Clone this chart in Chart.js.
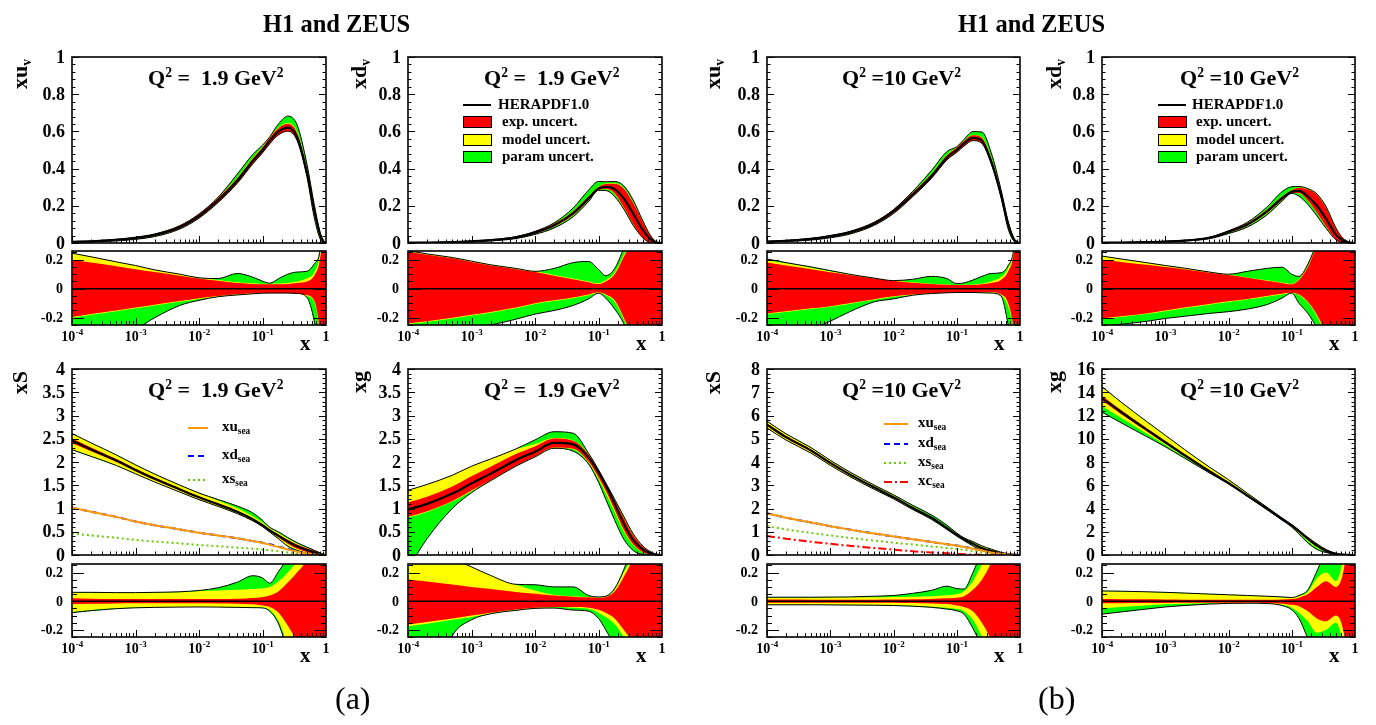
<!DOCTYPE html>
<html><head><meta charset="utf-8">
<script src="https://cdn.jsdelivr.net/npm/chart.js@4.4.1/dist/chart.umd.min.js"></script>
<style>
html,body{margin:0;padding:0;background:#fff;width:1376px;height:725px;overflow:hidden;position:relative}
canvas{position:absolute;left:0;top:0}
.t{position:absolute;font-family:"Liberation Serif","Times New Roman",serif;font-weight:bold;color:#000;white-space:pre;line-height:1;z-index:5}
.sup{font-size:0.62em;position:relative;top:-0.62em}
.sub{font-size:0.62em;position:relative;top:0.3em}
.rot{transform-origin:0 0;transform:rotate(-90deg);width:80px;text-align:right}
.box{position:absolute;border:1px solid #000;z-index:5}
</style></head><body>
<script>
// ---------------- data ----------------
const X = [1e-4,2e-4,5e-4,1e-3,2e-3,5e-3,0.01,0.02,0.04,0.07,0.1,0.13,0.18,0.25,0.35,0.5,0.65,0.8,0.9,1];
const X_TICKS = [1e-4,1e-3,1e-2,1e-1,1];
const TICKS_V = [0,0.2,0.4,0.6,0.8,1];
const TICKS_S19 = [0,0.5,1,1.5,2,2.5,3,3.5,4];
const TICKS_S10 = [0,1,2,3,4,5,6,7,8];
const TICKS_G10 = [0,2,4,6,8,10,12,14,16];
const TICKS_R = [-0.2,0,0.2];

// xu_v, Q2 = 1.9
const xuv19 = [0.006,0.009,0.017,0.027,0.043,0.085,0.145,0.23,0.335,0.44,0.50,0.55,0.60,0.62,0.57,0.38,0.18,0.05,0.01,0];
const xuv19_expUp = [0.20,0.18,0.155,0.135,0.115,0.09,0.07,0.055,0.04,0.033,0.03,0.03,0.03,0.033,0.04,0.05,0.09,0.2,0.4,1];
const xuv19_modUp = [0.245,0.22,0.185,0.16,0.13,0.1,0.075,0.06,0.045,0.038,0.035,0.035,0.036,0.04,0.05,0.07,0.11,0.23,0.45,1];
const xuv19_totUp = [0.245,0.22,0.185,0.16,0.13,0.1,0.075,0.07,0.105,0.08,0.052,0.038,0.07,0.1,0.115,0.12,0.17,0.26,0.5,1];
const xuv19_expDn = [-0.195,-0.175,-0.15,-0.13,-0.11,-0.085,-0.065,-0.05,-0.038,-0.032,-0.03,-0.03,-0.03,-0.03,-0.035,-0.045,-0.08,-0.3,-0.6,-1];
const xuv19_modDn = [-0.2,-0.18,-0.155,-0.135,-0.115,-0.09,-0.07,-0.055,-0.042,-0.035,-0.032,-0.032,-0.032,-0.032,-0.037,-0.05,-0.09,-0.32,-0.65,-1];
const xuv19_totDn = [-0.4,-0.37,-0.33,-0.28,-0.2,-0.115,-0.08,-0.055,-0.043,-0.035,-0.031,-0.03,-0.03,-0.03,-0.032,-0.06,-0.22,-0.5,-0.8,-1];

// xd_v, Q2 = 1.9
const xdv19 = [0.0015,0.0025,0.005,0.009,0.015,0.03,0.056,0.095,0.16,0.24,0.292,0.302,0.29,0.24,0.16,0.07,0.022,0.004,0.001,0];
const xdv19_expUp = [0.255,0.235,0.21,0.185,0.16,0.135,0.115,0.09,0.065,0.045,0.032,0.05,0.1,0.22,0.35,0.6,0.9,1,1,1];
const xdv19_modUp = [0.262,0.24,0.215,0.19,0.165,0.14,0.12,0.095,0.07,0.05,0.037,0.058,0.11,0.23,0.36,0.6,0.9,1,1,1];
const xdv19_totUp = [0.262,0.24,0.215,0.19,0.165,0.14,0.12,0.14,0.18,0.188,0.133,0.09,0.14,0.28,0.45,0.7,1,1,1,1];
const xdv19_expDn = [-0.24,-0.225,-0.2,-0.18,-0.16,-0.13,-0.1,-0.08,-0.06,-0.04,-0.025,-0.04,-0.08,-0.2,-0.35,-0.6,-0.9,-1,-1,-1];
const xdv19_modDn = [-0.245,-0.23,-0.205,-0.185,-0.165,-0.135,-0.105,-0.085,-0.065,-0.045,-0.03,-0.045,-0.09,-0.21,-0.36,-0.6,-0.9,-1,-1,-1];
const xdv19_totDn = [-0.32,-0.31,-0.29,-0.27,-0.25,-0.21,-0.175,-0.15,-0.115,-0.07,-0.03,-0.065,-0.14,-0.24,-0.4,-0.6,-0.9,-1,-1,-1];

// xu_v, Q2 = 10
const xuv10 = [0.008,0.012,0.022,0.036,0.056,0.105,0.17,0.26,0.36,0.46,0.5,0.535,0.565,0.55,0.44,0.26,0.1,0.02,0.004,0];
const xuv10_expUp = [0.18,0.16,0.135,0.113,0.095,0.07,0.054,0.042,0.032,0.027,0.025,0.025,0.025,0.03,0.04,0.06,0.12,0.25,0.5,1];
const xuv10_modUp = [0.195,0.175,0.145,0.12,0.1,0.073,0.056,0.044,0.034,0.029,0.027,0.027,0.028,0.034,0.05,0.08,0.14,0.27,0.55,1];
const xuv10_totUp = [0.205,0.18,0.15,0.125,0.1,0.073,0.056,0.065,0.085,0.07,0.035,0.04,0.06,0.085,0.105,0.11,0.16,0.28,0.55,1];
const xuv10_expDn = [-0.17,-0.155,-0.135,-0.12,-0.1,-0.072,-0.052,-0.04,-0.03,-0.027,-0.025,-0.025,-0.025,-0.025,-0.025,-0.04,-0.1,-0.3,-0.6,-1];
const xuv10_modDn = [-0.175,-0.16,-0.14,-0.125,-0.105,-0.076,-0.055,-0.043,-0.032,-0.028,-0.026,-0.026,-0.026,-0.027,-0.028,-0.045,-0.12,-0.32,-0.65,-1];
const xuv10_totDn = [-0.36,-0.33,-0.28,-0.224,-0.16,-0.09,-0.07,-0.045,-0.033,-0.028,-0.026,-0.026,-0.026,-0.028,-0.03,-0.05,-0.25,-0.5,-0.8,-1];

// xd_v, Q2 = 10
const xdv10 = [0.0015,0.0025,0.005,0.008,0.013,0.028,0.06,0.1,0.168,0.24,0.275,0.28,0.25,0.2,0.13,0.045,0.012,0.003,0.0005,0];
const xdv10_expUp = [0.2,0.185,0.165,0.15,0.135,0.11,0.094,0.075,0.055,0.04,0.03,0.06,0.15,0.3,0.45,0.7,1,1,1,1];
const xdv10_modUp = [0.225,0.205,0.18,0.16,0.142,0.115,0.097,0.078,0.058,0.043,0.034,0.065,0.155,0.31,0.46,0.7,1,1,1,1];
const xdv10_totUp = [0.225,0.205,0.18,0.16,0.142,0.115,0.1,0.12,0.14,0.148,0.1,0.085,0.17,0.32,0.5,0.8,1,1,1,1];
const xdv10_expDn = [-0.205,-0.19,-0.17,-0.15,-0.13,-0.105,-0.087,-0.07,-0.05,-0.035,-0.028,-0.04,-0.09,-0.18,-0.32,-0.6,-0.9,-1,-1,-1];
const xdv10_modDn = [-0.21,-0.195,-0.175,-0.155,-0.135,-0.11,-0.092,-0.075,-0.055,-0.04,-0.032,-0.045,-0.095,-0.19,-0.33,-0.6,-0.9,-1,-1,-1];
const xdv10_totDn = [-0.26,-0.245,-0.225,-0.205,-0.19,-0.17,-0.158,-0.14,-0.11,-0.065,-0.03,-0.1,-0.17,-0.27,-0.4,-0.6,-0.9,-1,-1,-1];

// xS, Q2 = 1.9
const xS19 = [2.46,2.27,2.03,1.83,1.64,1.41,1.24,1.09,0.93,0.77,0.64,0.53,0.41,0.29,0.19,0.11,0.06,0.025,0.008,0];
const xS19_expUp = [0.02,0.018,0.016,0.015,0.015,0.015,0.015,0.016,0.018,0.022,0.03,0.04,0.07,0.13,0.2,0.3,0.5,0.8,1,1];
const xS19_modUp = [0.06,0.06,0.058,0.058,0.06,0.063,0.07,0.075,0.08,0.085,0.09,0.1,0.14,0.2,0.28,0.4,0.6,0.9,1,1];
const xS19_totUp = [0.062,0.062,0.06,0.06,0.062,0.066,0.075,0.094,0.133,0.178,0.163,0.126,0.21,0.3,0.4,0.55,0.7,1,1,1];
const xS19_expDn = [-0.02,-0.018,-0.016,-0.015,-0.015,-0.015,-0.015,-0.016,-0.018,-0.022,-0.03,-0.04,-0.08,-0.17,-0.28,-0.4,-0.6,-0.9,-1,-1];
const xS19_modDn = [-0.075,-0.062,-0.05,-0.044,-0.042,-0.04,-0.04,-0.041,-0.043,-0.044,-0.045,-0.06,-0.14,-0.3,-0.4,-0.55,-0.75,-1,-1,-1];
const xS19_totDn = [-0.08,-0.066,-0.052,-0.046,-0.043,-0.041,-0.04,-0.041,-0.043,-0.045,-0.047,-0.07,-0.16,-0.35,-0.5,-0.7,-0.9,-1,-1,-1];
const xusea19 = [1.02,0.93,0.82,0.72,0.64,0.55,0.48,0.42,0.36,0.3,0.26,0.22,0.17,0.12,0.07,0.03,0.01,0.003,0.001,0];
const xdsea19 = [1.02,0.93,0.82,0.72,0.64,0.55,0.48,0.42,0.36,0.3,0.265,0.23,0.18,0.13,0.08,0.035,0.012,0.003,0.001,0];
const xssea19 = [0.46,0.42,0.37,0.325,0.29,0.25,0.215,0.19,0.16,0.135,0.115,0.1,0.077,0.055,0.032,0.014,0.005,0.001,0,0];

// xg, Q2 = 1.9
const xg19 = [0.98,1.1,1.32,1.54,1.75,2.04,2.22,2.41,2.38,2.1,1.78,1.5,1.1,0.68,0.33,0.12,0.04,0.01,0.002,0];
const xg19_expUp = [0.152,0.137,0.117,0.1,0.085,0.065,0.052,0.04,0.032,0.027,0.025,0.03,0.07,0.17,0.3,0.5,0.8,1,1,1];
const xg19_modUp = [0.42,0.38,0.3,0.24,0.18,0.115,0.075,0.045,0.035,0.029,0.028,0.032,0.08,0.2,0.33,0.55,0.85,1,1,1];
const xg19_totUp = [0.42,0.38,0.3,0.24,0.18,0.118,0.115,0.1,0.1,0.04,0.03,0.035,0.09,0.22,0.4,0.6,0.9,1,1,1];
const xg19_expDn = [-0.162,-0.145,-0.12,-0.1,-0.08,-0.058,-0.045,-0.04,-0.04,-0.045,-0.06,-0.08,-0.12,-0.2,-0.3,-0.5,-0.8,-1,-1,-1];
const xg19_modDn = [-0.175,-0.157,-0.13,-0.11,-0.085,-0.062,-0.048,-0.043,-0.045,-0.052,-0.08,-0.11,-0.16,-0.25,-0.35,-0.55,-0.85,-1,-1,-1];
const xg19_totDn = [-1.3,-0.68,-0.24,-0.13,-0.088,-0.064,-0.05,-0.048,-0.062,-0.07,-0.12,-0.2,-0.32,-0.5,-0.7,-0.9,-1,-1,-1,-1];

// xS, Q2 = 10
const xS10 = [5.6,5.07,4.49,3.96,3.48,2.9,2.49,2.03,1.6,1.16,0.87,0.68,0.48,0.29,0.17,0.07,0.03,0.01,0.003,0];
const xS10_expUp = [0.012,0.012,0.011,0.011,0.011,0.011,0.012,0.014,0.016,0.02,0.025,0.035,0.08,0.15,0.27,0.45,0.7,1,1,1];
const xS10_modUp = [0.025,0.025,0.025,0.026,0.027,0.028,0.03,0.032,0.035,0.042,0.05,0.07,0.14,0.26,0.4,0.6,0.8,1,1,1];
const xS10_totUp = [0.028,0.028,0.028,0.029,0.03,0.035,0.04,0.055,0.076,0.105,0.088,0.085,0.2,0.35,0.5,0.7,0.9,1,1,1];
const xS10_expDn = [-0.01,-0.01,-0.01,-0.01,-0.01,-0.01,-0.011,-0.013,-0.016,-0.02,-0.03,-0.04,-0.07,-0.15,-0.27,-0.45,-0.7,-1,-1,-1];
const xS10_modDn = [-0.024,-0.024,-0.024,-0.025,-0.025,-0.026,-0.028,-0.032,-0.038,-0.045,-0.055,-0.07,-0.13,-0.25,-0.4,-0.6,-0.8,-1,-1,-1];
const xS10_totDn = [-0.025,-0.025,-0.025,-0.026,-0.027,-0.028,-0.03,-0.035,-0.043,-0.055,-0.067,-0.09,-0.19,-0.32,-0.5,-0.7,-0.9,-1,-1,-1];
const xusea10 = [1.8,1.6,1.4,1.24,1.1,0.92,0.8,0.68,0.56,0.46,0.4,0.34,0.27,0.19,0.11,0.05,0.02,0.005,0.001,0];
const xdsea10 = [1.8,1.6,1.4,1.24,1.1,0.92,0.8,0.68,0.56,0.46,0.41,0.35,0.28,0.2,0.12,0.055,0.022,0.006,0.001,0];
const xssea10 = [1.25,1.1,0.95,0.84,0.74,0.62,0.53,0.45,0.37,0.3,0.26,0.22,0.17,0.12,0.07,0.03,0.01,0.003,0.001,0];
const xcsea10 = [0.82,0.7,0.57,0.48,0.4,0.3,0.23,0.16,0.11,0.07,0.05,0.035,0.02,0.01,0.004,0.001,0,0,0,0];

// xg, Q2 = 10
const xg10 = [13.5,12.3,10.8,9.7,8.6,7.2,6.2,5.1,4.0,3.1,2.55,2.05,1.4,0.8,0.35,0.1,0.03,0.006,0.001,0];
const xg10_expUp = [0.015,0.014,0.013,0.012,0.011,0.01,0.01,0.01,0.01,0.012,0.015,0.025,0.05,0.1,0.14,0.1,0.2,0.5,0.8,1];
const xg10_modUp = [0.07,0.068,0.064,0.06,0.055,0.048,0.043,0.038,0.033,0.028,0.024,0.035,0.065,0.16,0.2,0.14,0.3,0.6,0.9,1];
const xg10_totUp = [0.072,0.07,0.066,0.062,0.057,0.05,0.045,0.04,0.035,0.03,0.026,0.04,0.08,0.21,0.35,0.4,0.5,0.7,1,1];
const xg10_expDn = [-0.015,-0.014,-0.013,-0.012,-0.011,-0.01,-0.01,-0.01,-0.012,-0.018,-0.025,-0.035,-0.07,-0.12,-0.14,-0.1,-0.2,-0.5,-0.8,-1];
const xg10_modDn = [-0.05,-0.04,-0.03,-0.022,-0.018,-0.015,-0.013,-0.012,-0.014,-0.025,-0.045,-0.08,-0.14,-0.22,-0.2,-0.15,-0.3,-0.6,-1,-1];
const xg10_totDn = [-0.09,-0.075,-0.055,-0.04,-0.03,-0.02,-0.015,-0.014,-0.016,-0.03,-0.06,-0.12,-0.26,-0.4,-0.4,-0.3,-0.5,-0.8,-1,-1];

// ---------------- layout ----------------
const W = 1376, H = 725;
const COLS = [[72,326],[408,662],[767,1020],[1102,1355]];
const ROWS = [{main:[57,243], ratio:[251,325]}, {main:[369,555], ratio:[564,637]}];
const FONT = '"Liberation Serif","Times New Roman",serif';
const RED = '#ff0000', YEL = '#ffff00', GRN = '#00ff00';

const rootFrame = {
  id: 'rootFrame',
  afterDraw(chart, args, o) {
    const ctx = chart.ctx, a = chart.chartArea, xs = chart.scales.x, ys = chart.scales.y;
    ctx.save();
    ctx.strokeStyle = '#000'; ctx.fillStyle = '#000'; ctx.lineWidth = 1;
    ctx.beginPath();
    const n0 = Math.ceil(ys.min / o.yMinor - 1e-6), n1 = Math.floor(ys.max / o.yMinor + 1e-6);
    for (let k = n0; k <= n1; k++) {
      const v = k * o.yMinor;
      const p = Math.round(ys.getPixelForValue(v)) + 0.5;
      const maj = o.yTicks.some(t => Math.abs(t - v) < 1e-6);
      const len = maj ? o.yMaj : o.yMin;
      ctx.moveTo(a.left, p); ctx.lineTo(a.left + len, p);
      ctx.moveTo(a.right, p); ctx.lineTo(a.right - len, p);
    }
    for (let d = 0; d < X_TICKS.length - 1; d++) {
      for (let m = 1; m <= 9; m++) {
        const v = X_TICKS[d] * m;
        const p = Math.round(xs.getPixelForValue(v)) + 0.5;
        const len = m === 1 ? o.xMaj : o.xMin;
        ctx.moveTo(p, a.bottom); ctx.lineTo(p, a.bottom - len);
      }
    }
    ctx.stroke();
    ctx.lineWidth = 1.6;
    ctx.strokeRect(a.left, a.top, a.right - a.left, a.bottom - a.top);
    // y labels
    ctx.font = 'bold ' + o.yFont + 'px ' + FONT;
    ctx.textAlign = 'right'; ctx.textBaseline = 'middle';
    for (const v of o.yTicks) {
      const s = Math.abs(v) < 1e-9 ? '0' : String(Math.round(v * 100) / 100);
      ctx.fillText(s, a.left - o.yGap, ys.getPixelForValue(v) + 1);
    }
    // x labels
    if (o.xLabels) {
      ctx.textBaseline = 'alphabetic'; ctx.textAlign = 'left';
      const yb = a.bottom + 16;
      for (const v of X_TICKS) {
        const p = xs.getPixelForValue(v);
        const e = Math.round(Math.log10(v));
        if (e === 0) {
          ctx.font = 'bold 14px ' + FONT;
          const w = ctx.measureText('1').width;
          ctx.fillText('1', p - w / 2, yb);
        } else {
          ctx.font = 'bold 14px ' + FONT;
          const wb = ctx.measureText('10').width;
          ctx.font = 'bold 9px ' + FONT;
          const es = '-' + Math.abs(e);
          const we = ctx.measureText(es).width;
          const s0 = p - (wb + we) / 2;
          ctx.font = 'bold 14px ' + FONT;
          ctx.fillText('10', s0, yb);
          ctx.font = 'bold 9px ' + FONT;
          ctx.fillText(es, s0 + wb + 0.5, yb - 6);
        }
      }
    }
    ctx.restore();
  }
};

function pts(ys) { return X.map((x, i) => ({x: x, y: ys[i]})); }
function scaled(c, f) { return c.map((v, i) => v * (1 + f[i])); }

function bandSets(c, eU, eD, mU, mD, tU, tD, isRatio) {
  const tr = isRatio ? (f => f) : (f => scaled(c, f));
  const none = 'rgba(0,0,0,0)';
  return [
    {data: pts(isRatio ? c.map(() => 0) : c), borderColor: '#000', borderWidth: isRatio ? 1.4 : 2.2, fill: false},
    {data: pts(tr(eU)), borderColor: none, borderWidth: 1, backgroundColor: RED, fill: '+1'},
    {data: pts(tr(eD)), borderColor: none, borderWidth: 1, fill: false},
    {data: pts(tr(mU)), borderColor: none, borderWidth: 1, backgroundColor: YEL, fill: '+1'},
    {data: pts(tr(mD)), borderColor: none, borderWidth: 1, fill: false},
    {data: pts(tr(tU)), borderColor: '#000', borderWidth: 1, backgroundColor: GRN, fill: '+1'},
    {data: pts(tr(tD)), borderColor: '#000', borderWidth: 1, fill: false}
  ];
}

function makeChart(l, r, t, b, datasets, yMin, yMax, ax) {
  const cv = document.createElement('canvas');
  cv.width = W; cv.height = H;
  document.body.appendChild(cv);
  datasets.forEach(d => { d.clip = 0; d.pointRadius = 0; d.cubicInterpolationMode = 'monotone'; });
  return new Chart(cv, {
    type: 'line',
    data: {datasets: datasets},
    options: {
      responsive: false, animation: false, events: [],
      layout: {padding: {left: l, right: W - r, top: t, bottom: H - b}},
      scales: {
        x: {type: 'logarithmic', min: 1e-4, max: 1, display: false},
        y: {type: 'linear', min: yMin, max: yMax, display: false}
      },
      plugins: {legend: {display: false}, tooltip: {enabled: false},
                filler: {drawTime: 'beforeDatasetsDraw'}, rootFrame: ax}
    },
    plugins: [rootFrame]
  });
}

const PANELS = [
  {col:0,row:0,c:xuv19,eU:xuv19_expUp,eD:xuv19_expDn,mU:xuv19_modUp,mD:xuv19_modDn,tU:xuv19_totUp,tD:xuv19_totDn,ymax:1,ticks:TICKS_V,minor:0.04},
  {col:1,row:0,c:xdv19,eU:xdv19_expUp,eD:xdv19_expDn,mU:xdv19_modUp,mD:xdv19_modDn,tU:xdv19_totUp,tD:xdv19_totDn,ymax:1,ticks:TICKS_V,minor:0.04},
  {col:2,row:0,c:xuv10,eU:xuv10_expUp,eD:xuv10_expDn,mU:xuv10_modUp,mD:xuv10_modDn,tU:xuv10_totUp,tD:xuv10_totDn,ymax:1,ticks:TICKS_V,minor:0.04},
  {col:3,row:0,c:xdv10,eU:xdv10_expUp,eD:xdv10_expDn,mU:xdv10_modUp,mD:xdv10_modDn,tU:xdv10_totUp,tD:xdv10_totDn,ymax:1,ticks:TICKS_V,minor:0.04},
  {col:0,row:1,c:xS19,eU:xS19_expUp,eD:xS19_expDn,mU:xS19_modUp,mD:xS19_modDn,tU:xS19_totUp,tD:xS19_totDn,ymax:4,ticks:TICKS_S19,minor:0.1,
   sea:[{d:xusea19,c:'#ff9900',dash:[]},{d:xdsea19,c:'#0000ff',dash:[6,4]},{d:xssea19,c:'#66cc00',dash:[2,3]}]},
  {col:1,row:1,c:xg19,eU:xg19_expUp,eD:xg19_expDn,mU:xg19_modUp,mD:xg19_modDn,tU:xg19_totUp,tD:xg19_totDn,ymax:4,ticks:TICKS_S19,minor:0.1},
  {col:2,row:1,c:xS10,eU:xS10_expUp,eD:xS10_expDn,mU:xS10_modUp,mD:xS10_modDn,tU:xS10_totUp,tD:xS10_totDn,ymax:8,ticks:TICKS_S10,minor:0.2,
   sea:[{d:xusea10,c:'#ff9900',dash:[]},{d:xdsea10,c:'#0000ff',dash:[6,4]},{d:xssea10,c:'#66cc00',dash:[2,3]},{d:xcsea10,c:'#ff0000',dash:[8,3,2,3]}]},
  {col:3,row:1,c:xg10,eU:xg10_expUp,eD:xg10_expDn,mU:xg10_modUp,mD:xg10_modDn,tU:xg10_totUp,tD:xg10_totDn,ymax:16,ticks:TICKS_G10,minor:0.4}
];

PANELS.forEach(P => {
  const [l, r] = COLS[P.col];
  const R = ROWS[P.row];
  const main = bandSets(P.c, P.eU, P.eD, P.mU, P.mD, P.tU, P.tD, false);
  const seaSets = (P.sea || []).map(s => ({data: pts(s.d), borderColor: s.c, borderWidth: 2, borderDash: s.dash, fill: false}));
  makeChart(l, r, R.main[0], R.main[1], seaSets.concat(main), 0, P.ymax,
    {yTicks: P.ticks, yMinor: P.minor, yMaj: 7, yMin: 3.5, xMaj: 7, xMin: 3.5, yFont: 18, yGap: 7, xLabels: false});
  const rat = bandSets(P.c, P.eU, P.eD, P.mU, P.mD, P.tU, P.tD, true);
  makeChart(l, r, R.ratio[0], R.ratio[1], rat, -0.25, 0.26,
    {yTicks: TICKS_R, yMinor: 0.05, yMaj: 12, yMin: 5, xMaj: 7, xMin: 4, yFont: 14, yGap: 9, xLabels: true});
});

// ---------------- text ----------------
function txt(html, left, top, size, cls, extra) {
  const d = document.createElement('div');
  d.className = 't' + (cls ? ' ' + cls : '');
  d.style.left = left + 'px'; d.style.top = top + 'px'; d.style.fontSize = size + 'px';
  if (extra) d.style.cssText += extra;
  d.innerHTML = html;
  document.body.appendChild(d);
  return d;
}
function box(left, top, w, h, color) {
  const d = document.createElement('div');
  d.className = 'box';
  d.style.cssText += 'left:' + left + 'px;top:' + top + 'px;width:' + w + 'px;height:' + h + 'px;background:' + color;
  document.body.appendChild(d);
}

txt('H1 and ZEUS', 263, 12, 24.5);
txt('H1 and ZEUS', 958, 12, 24.5);
txt('(a)', 335, 682, 32, '', 'font-weight:normal');
txt('(b)', 1038, 682, 32, '', 'font-weight:normal');

const YNAMES = [['xu<span class="sub">v</span>','xd<span class="sub">v</span>','xu<span class="sub">v</span>','xd<span class="sub">v</span>'],
                ['xS','xg','xS','xg']];
const YNAME_L = [9, 348, 702, 1043];
for (let r = 0; r < 2; r++) for (let c = 0; c < 4; c++) {
  txt(YNAMES[r][c], YNAME_L[c], ROWS[r].main[0] + 2 + 80, 22, 'rot');
  txt('x', COLS[c][1] - 26, ROWS[r].ratio[1] + 8, 21);
}
const Q2 = ['Q<span class="sup">2</span> =  1.9 GeV<span class="sup">2</span>', 'Q<span class="sup">2</span> =10 GeV<span class="sup">2</span>'];
const Q2L = [148, 484, 842, 1180];
for (let r = 0; r < 2; r++) for (let c = 0; c < 4; c++) {
  txt(Q2[c < 2 ? 0 : 1], Q2L[c], ROWS[r].main[0] + 10, 22);
}

// legends HERAPDF
[[463, 498, 502], [1158, 1192, 1196]].forEach(([bx, tx1, tx2]) => {
  const ln = document.createElement('div');
  ln.style.cssText = 'position:absolute;z-index:5;background:#000;left:' + bx + 'px;top:104px;width:28px;height:2px';
  document.body.appendChild(ln);
  txt('HERAPDF1.0', tx1, 97, 15);
  box(bx, 116, 27, 10, RED); txt('exp. uncert.', tx2, 114, 15);
  box(bx, 134, 27, 10, YEL); txt('model uncert.', tx2, 132, 15);
  box(bx, 151, 27, 10, GRN); txt('param uncert.', tx2, 149, 15);
});

// sea legends
function seaLegend(x0, x1, tx, items) {
  let svg = '<svg width="' + W + '" height="' + H + '" style="position:absolute;left:0;top:0;z-index:4">';
  items.forEach(it => {
    svg += '<line x1="' + x0 + '" y1="' + it.y + '" x2="' + x1 + '" y2="' + it.y + '" stroke="' + it.c + '" stroke-width="2"' +
      (it.dash ? ' stroke-dasharray="' + it.dash + '"' : '') + '/>';
  });
  svg += '</svg>';
  const d = document.createElement('div'); d.innerHTML = svg; document.body.appendChild(d);
  items.forEach(it => txt(it.t + '<span class="sub">sea</span>', tx, it.y - 9, 15));
}
seaLegend(188, 208, 222, [
  {y: 428, c: '#ff9900', t: 'xu'}, {y: 456, c: '#0000ff', dash: '6,4', t: 'xd'}, {y: 480, c: '#66cc00', dash: '2,3', t: 'xs'}]);
seaLegend(884, 908, 918, [
  {y: 424, c: '#ff9900', t: 'xu'}, {y: 444, c: '#0000ff', dash: '6,4', t: 'xd'}, {y: 463, c: '#66cc00', dash: '2,3', t: 'xs'},
  {y: 482, c: '#ff0000', dash: '8,3,2,3', t: 'xc'}]);
</script>
</body></html>
